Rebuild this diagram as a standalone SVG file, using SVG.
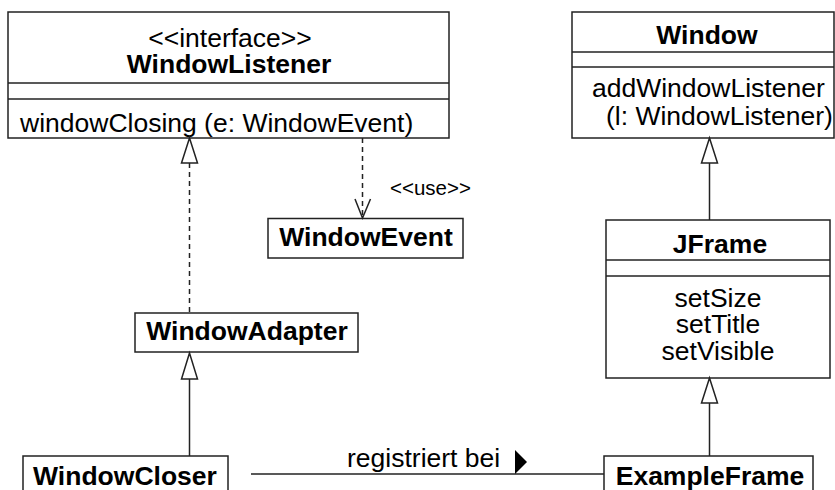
<svg xmlns="http://www.w3.org/2000/svg" width="835" height="490" viewBox="0 0 835 490">
<style>
.box{fill:#fff;stroke:#222;stroke-width:1.5}
.ln{stroke:#222;stroke-width:1.5;fill:none}
.dash{stroke:#222;stroke-width:1.5;fill:none;stroke-dasharray:5,4}
.tri{fill:#fff;stroke:#222;stroke-width:1.5}
text{font-family:"Liberation Sans",Arial,Helvetica,sans-serif;font-size:26.5px;fill:#000}
.b{font-weight:bold}
.c{text-anchor:middle}
.s{font-size:20.5px}
</style>
<rect width="835" height="490" fill="#fff"/>
<g id="WindowListener">
<rect class="box" x="8" y="12" width="441" height="126"/>
<line class="ln" x1="8" y1="83" x2="449" y2="83"/>
<line class="ln" x1="8" y1="99" x2="449" y2="99"/>
<text class="c" x="230" y="47">&lt;&lt;interface&gt;&gt;</text>
<text class="c b" x="229" y="73">WindowListener</text>
<text x="20" y="132">windowClosing (e: WindowEvent)</text>
</g>
<g id="Window">
<rect class="box" x="572" y="12" width="262" height="126"/>
<line class="ln" x1="572" y1="52" x2="834" y2="52"/>
<line class="ln" x1="572" y1="67" x2="834" y2="67"/>
<text class="c b" x="707" y="44">Window</text>
<text x="592" y="97">addWindowListener</text>
<text x="606" y="125">(l: WindowListener)</text>
</g>
<g id="WindowEvent">
<rect class="box" x="268" y="218.5" width="195" height="39.5"/>
<text class="c b" x="366" y="246">WindowEvent</text>
</g>
<g id="WindowAdapter">
<rect class="box" x="135" y="313" width="223" height="39"/>
<text class="c b" x="247" y="340">WindowAdapter</text>
</g>
<g id="JFrame">
<rect class="box" x="606" y="220" width="224" height="158"/>
<line class="ln" x1="606" y1="260" x2="830" y2="260"/>
<line class="ln" x1="606" y1="276" x2="830" y2="276"/>
<text class="c b" x="720" y="253">JFrame</text>
<text class="c" x="718" y="307">setSize</text>
<text class="c" x="718" y="333">setTitle</text>
<text class="c" x="718" y="360">setVisible</text>
</g>
<g id="WindowCloser">
<rect class="box" x="23" y="456" width="205" height="50"/>
<text class="c b" x="125" y="485">WindowCloser</text>
</g>
<g id="ExampleFrame">
<rect class="box" x="604" y="456" width="209" height="50"/>
<text class="c b" x="710" y="485">ExampleFrame</text>
</g>
<g id="connectors">
<line class="dash" x1="189.5" y1="163" x2="189.5" y2="313"/>
<polygon class="tri" points="189.5,138 181.5,163 197.5,163"/>
<line class="dash" x1="362.5" y1="138" x2="362.5" y2="217"/>
<polyline class="ln" points="355,199 362.5,218 370.5,199"/>
<text class="s" x="390" y="195">&lt;&lt;use&gt;&gt;</text>
<line class="ln" x1="189.5" y1="379" x2="189.5" y2="456"/>
<polygon class="tri" points="189.5,353 181.5,379 197.5,379"/>
<line class="ln" x1="709.5" y1="163" x2="709.5" y2="220"/>
<polygon class="tri" points="709.5,138 701.5,163 717.5,163"/>
<line class="ln" x1="709.5" y1="403" x2="709.5" y2="456"/>
<polygon class="tri" points="709.5,378 701.5,403 717.5,403"/>
<line class="ln" x1="251" y1="474" x2="604" y2="474"/>
<text x="347" y="467">registriert bei</text>
<polygon points="515,450 515,474 527,462" fill="#000"/>
</g>
</svg>
